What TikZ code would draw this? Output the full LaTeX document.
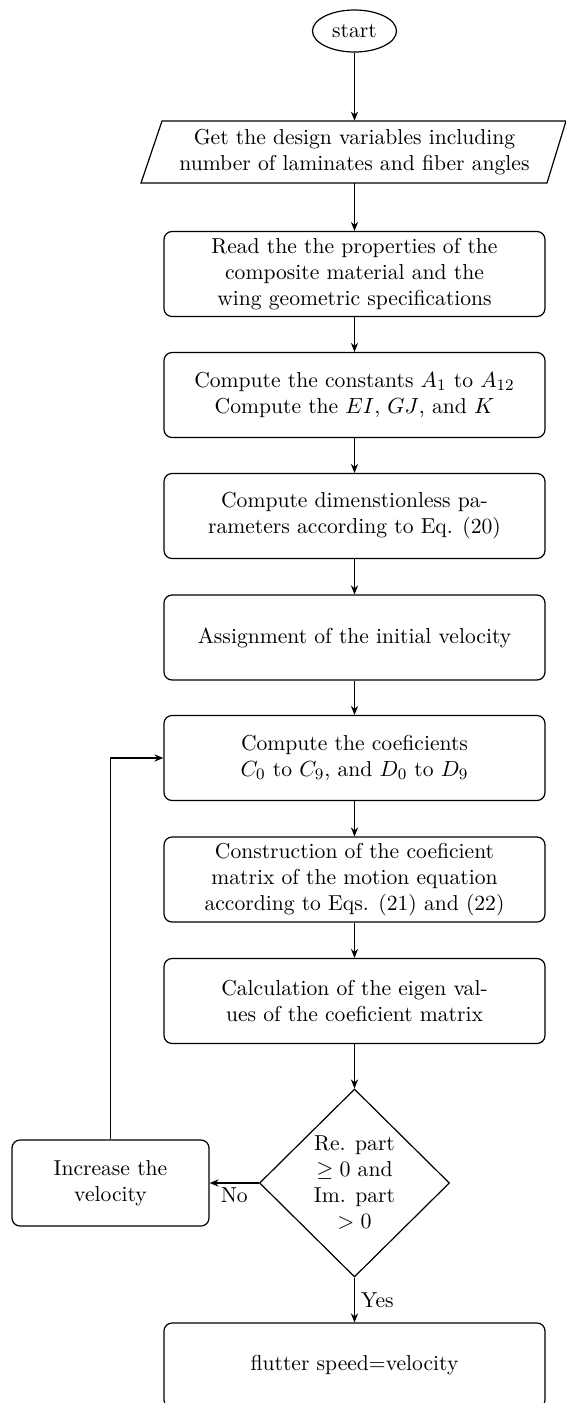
\documentclass[tikz,border=0pt]{standalone}
\usetikzlibrary{shapes.geometric,arrows.meta}
\begin{document}
\begin{tikzpicture}[x=0.5pt,y=-0.5pt,
  font=\fontsize{10.8}{13}\selectfont,
  box/.style={draw, rounded corners=4pt, minimum width=190.5pt, minimum height=42.5pt, align=center, line width=0.6pt, inner sep=0pt},
  arr/.style={-{Stealth[length=4.5pt,width=3.6pt]}, line width=0.6pt},
  startnode/.style={ellipse, draw, line width=0.6pt, minimum width=42pt, minimum height=21pt, inner sep=0pt},
  decision/.style={diamond, draw, line width=0.6pt, minimum width=95pt, minimum height=94pt, inner sep=0pt, align=center}]
\useasboundingbox (0,0) rectangle (566,1403);
\clip (0,0) rectangle (566,1403);
\fill[white] (0,0) rectangle (566,1403);

\node[startnode] (start) at (354.5,31) {start};
\node[align=center, minimum width=202pt, minimum height=31pt, inner sep=0pt] (input) at (354.5,152)
  {Get the design variables including\\number of laminates and fiber angles};
\draw[line width=0.6pt] (141,183) -- (547,183) -- (566,121) -- (162,121) -- cycle;

\node[box] (b1) at (354.5,274) {Read the the properties of the\\composite material and the\\wing geometric specifications};
\node[box] (b2) at (354.5,395) {Compute the constants $A_1$ to $A_{12}$\\Compute the $EI$, $GJ$, and $K$};
\node[box] (b3) at (354.5,516) {Compute dimenstionless pa-\\rameters according to Eq. (20)};
\node[box] (b4) at (354.5,637.5) {Assignment of the initial velocity};
\node[box] (b5) at (354.5,758) {Compute the coeficients\\$C_0$ to $C_9$, and $D_0$ to $D_9$};
\node[box] (b6) at (354.5,879.5) {Construction of the coeficient\\matrix of the motion equation\\according to Eqs. (21) and (22)};
\node[box] (b7) at (354.5,1001) {Calculation of the eigen val-\\ues of the coeficient matrix};
\node[decision] (dia) at (354.5,1183) {Re. part\\$\geq 0$ and\\Im. part\\$>0$};
\node[box, minimum width=98.5pt, minimum height=43pt] (inc) at (110.5,1183) {Increase the\\velocity};
\node[box] (fin) at (354.5,1365.5) {flutter speed=velocity};

\draw[arr] (start.south) -- (input.north);
\draw[arr] (input.south) -- (b1.north);
\draw[arr] (b1) -- (b2);
\draw[arr] (b2) -- (b3);
\draw[arr] (b3) -- (b4);
\draw[arr] (b4) -- (b5);
\draw[arr] (b5) -- (b6);
\draw[arr] (b6) -- (b7);
\draw[arr] (b7) -- (dia);
\draw[arr] (dia.west) -- node[below, inner sep=2pt] (no) {No} (inc.east);
\draw[arr] (dia.south) -- node[right, inner sep=3pt] (yes) {Yes} (fin.north);
\draw[arr] (inc.north) |- (b5.west);
\end{tikzpicture}
\end{document}
